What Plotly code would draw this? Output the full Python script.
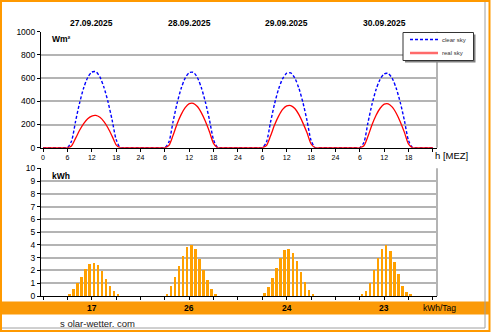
import plotly.graph_objects as go

# ---------------- data ----------------
dates = ["27.09.2025", "28.09.2025", "29.09.2025", "30.09.2025"]
day_hours = list(range(6, 20))  # hours with non-zero irradiance curve points
clear_sky = [
    [0, 55, 225, 385, 515, 605, 652, 655, 610, 520, 395, 240, 70, 0],
    [0, 50, 222, 382, 510, 600, 647, 650, 605, 515, 390, 236, 66, 0],
    [0, 48, 218, 378, 506, 595, 642, 645, 600, 512, 388, 233, 63, 0],
    [0, 45, 215, 375, 502, 590, 637, 640, 596, 508, 384, 230, 60, 0],
]
real_sky = [
    [0, 15, 80, 150, 208, 250, 273, 278, 262, 225, 170, 100, 25, 0],
    [0, 20, 105, 205, 285, 345, 380, 383, 355, 300, 225, 135, 35, 0],
    [0, 18, 100, 195, 272, 330, 360, 363, 338, 285, 212, 128, 32, 0],
    [0, 17, 98, 198, 280, 340, 375, 378, 350, 295, 220, 130, 30, 0],
]
bar_hours = list(range(6, 19))
hourly_kwh = [
    [0.15, 0.50, 0.97, 1.50, 2.10, 2.50, 2.55, 2.40, 1.90, 1.33, 0.73, 0.40, 0.08],
    [0.15, 0.73, 1.43, 2.32, 3.13, 3.79, 3.97, 3.66, 2.90, 2.04, 1.20, 0.50, 0.13],
    [0.18, 0.70, 1.38, 2.14, 2.92, 3.58, 3.68, 3.37, 2.72, 1.88, 1.10, 0.47, 0.10],
    [0.10, 0.37, 1.02, 2.04, 2.92, 3.68, 3.97, 3.52, 2.64, 1.70, 0.76, 0.26, 0.08],
]
daily_kwh = [17, 26, 24, 23]
legend_names = ["clear sky", "real sky"]
x_tick_vals = list(range(0, 97, 6))
x_tick_text = ["0", "6", "12", "18", "24", "6", "12", "18", "24",
               "6", "12", "18", "24", "6", "12", "18", ""]

# ---------------- assemble series ----------------
curve_x, clear_y, real_y = [], [], []
for d in range(4):
    for h in range(24):
        curve_x.append(24 * d + h)
        if h in day_hours:
            i = day_hours.index(h)
            clear_y.append(clear_sky[d][i])
            real_y.append(real_sky[d][i])
        else:
            clear_y.append(0)
            real_y.append(0)
curve_x.append(96)
clear_y.append(0)
real_y.append(0)

bar_x, bar_y = [], []
for d in range(4):
    for i, h in enumerate(bar_hours):
        bar_x.append(24 * d + h + 0.5)
        bar_y.append(hourly_kwh[d][i])

W, H = 492, 332
FONT = "Liberation Sans, Arial, sans-serif"

def px(x):
    return x / W

def py(y):
    return (H - y) / H

BLUE = "#0000ff"
RED = "#ff0000"

fig = go.Figure()
fig.add_trace(go.Scatter(x=curve_x, y=clear_y, mode="lines", name=legend_names[0],
                         showlegend=False,
                         line=dict(color=BLUE, width=1.4, dash="3px,2px",
                                   shape="spline", smoothing=0.7),
                         xaxis="x", yaxis="y"))
fig.add_trace(go.Scatter(x=curve_x, y=real_y, mode="lines", name=legend_names[1],
                         showlegend=False,
                         line=dict(color=RED, width=1.3,
                                   shape="spline", smoothing=0.7),
                         xaxis="x", yaxis="y"))
fig.add_trace(go.Bar(x=bar_x, y=bar_y, width=0.62, showlegend=False,
                     marker=dict(color="#ffa000", line=dict(width=0)),
                     xaxis="x2", yaxis="y2"))

xdom = [px(41), px(437)]
xrange_ = [-0.5, 97]
axis_common = dict(showline=True, linecolor="black", linewidth=1,
                   ticks="outside", ticklen=3, tickcolor="black",
                   zeroline=False, fixedrange=True, automargin=False)

fig.update_layout(
    width=W, height=H,
    margin=dict(l=0, r=0, t=0, b=0, autoexpand=False),
    paper_bgcolor="white", plot_bgcolor="white",
    font=dict(family=FONT, size=8, color="black"),
    bargap=0,
    showlegend=False,
    xaxis=dict(domain=xdom, range=xrange_, anchor="y",
               tickvals=x_tick_vals, ticktext=x_tick_text,
               tickfont=dict(size=7), showgrid=False, **axis_common),
    yaxis=dict(domain=[py(147.7), py(31.7)], range=[0, 1000], dtick=200,
               anchor="x", showgrid=True, gridcolor="#b4b4b4", gridwidth=2,
               tickfont=dict(size=8.5), **axis_common),
    xaxis2=dict(domain=xdom, range=xrange_, anchor="y2",
                tickvals=x_tick_vals, showticklabels=False, showgrid=False,
                **axis_common),
    yaxis2=dict(domain=[py(296), py(168.3)], range=[0, 10], dtick=1,
                anchor="x2", showgrid=True, gridcolor="#b4b4b4", gridwidth=2,
                tickfont=dict(size=8.5), **axis_common),
)

P = dict(xref="paper", yref="paper")
shapes = [
    # right plot borders
    dict(type="line", xref="x domain", yref="y domain", x0=1, x1=1, y0=0, y1=1,
         line=dict(color="#b4b4b4", width=2)),
    dict(type="line", xref="x2 domain", yref="y2 domain", x0=1, x1=1, y0=0, y1=1,
         line=dict(color="#b4b4b4", width=2)),
    # orange totals band
    dict(type="rect", **P, x0=0, x1=px(490), y0=py(314.5), y1=py(301.5),
         fillcolor="#fb9a08", line=dict(width=0), layer="below"),
    # inner gray frame lines
    dict(type="line", **P, x0=px(485), x1=px(485), y0=py(2), y1=py(328),
         line=dict(color="#a0a0a0", width=1)),
    dict(type="line", **P, x0=px(2), x1=px(485), y0=py(328), y1=py(328),
         line=dict(color="#a0a0a0", width=1)),
    # outer orange frame
    dict(type="rect", **P, x0=px(1), x1=px(489.5), y0=py(331), y1=py(1),
         line=dict(color="#ff9900", width=2)),
    # legend box with shadow
    dict(type="rect", **P, x0=px(405), x1=px(475.5), y0=py(62.5), y1=py(34.5),
         fillcolor="#808080", line=dict(width=0), layer="above"),
    dict(type="rect", **P, x0=px(403), x1=px(473.5), y0=py(60.5), y1=py(32.5),
         fillcolor="white", line=dict(color="#333333", width=1), layer="above"),
    dict(type="line", **P, x0=px(410), x1=px(438), y0=py(39.5), y1=py(39.5),
         line=dict(color=BLUE, width=1.3, dash="3px,2px"), layer="above"),
    dict(type="line", **P, x0=px(410), x1=px(438), y0=py(53), y1=py(53),
         line=dict(color="#ff6a6a", width=2.5), layer="above"),
]
fig.update_layout(shapes=shapes)

def text(x, y, s, size=8.5, bold=False, xanchor="center", color="black",
         xref="paper"):
    return dict(x=x, y=y, xref=xref, yref="paper", text=s, showarrow=False,
                xanchor=xanchor, yanchor="middle",
                font=dict(size=size, family=FONT, color=color,
                          weight="bold" if bold else "normal"))

ann = []
for d in range(4):
    ann.append(text(24 * d + 12, py(23.5), dates[d], bold=True, xref="x"))
    ann.append(text(24 * d + 12, py(308), str(daily_kwh[d]), bold=True, xref="x2"))
ann += [
    text(px(50), py(38.5), "Wm²", bold=True, xanchor="left"),
    text(px(50), py(175.5), "kWh", bold=True, xanchor="left"),
    text(96, py(155.5), "h [MEZ]", size=9.5, xanchor="left", xref="x"),
    text(px(439), py(308), "kWh/Tag", size=8.5),
    text(px(97), py(323), "s olar-wetter. com", size=9.5, color="#222222"),
    text(px(440), py(39.5), legend_names[0], size=6, xanchor="left", color="#333333"),
    text(px(440), py(53), legend_names[1], size=6, xanchor="left", color="#333333"),
]
fig.update_layout(annotations=ann)

fig.write_html("out.html")
